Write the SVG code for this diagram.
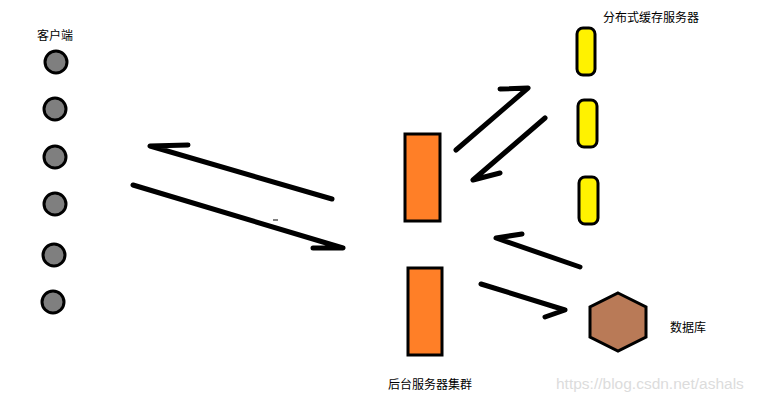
<svg xmlns="http://www.w3.org/2000/svg" width="757" height="403" viewBox="0 0 757 403">
<style>
.lbl{font-family:"Liberation Sans","Noto Sans CJK SC",sans-serif;font-size:12px;fill:#000}
.client{fill:#7f7f7f;stroke:#000;stroke-width:3}
.cache{fill:#fff200;stroke:#000;stroke-width:3}
.srv{fill:#ff7f27;stroke:#000;stroke-width:3}
.arr{fill:none;stroke:#000;stroke-width:5;stroke-linecap:round;stroke-linejoin:round}
</style>
<rect width="757" height="403" fill="#fff"/>
<g id="clients">
<text class="lbl" x="37" y="40">客户端</text>
<circle class="client" cx="56" cy="62" r="11"/>
<circle class="client" cx="55" cy="109" r="11"/>
<circle class="client" cx="55" cy="157" r="11"/>
<circle class="client" cx="55" cy="204" r="11"/>
<circle class="client" cx="54" cy="255" r="11"/>
<circle class="client" cx="53" cy="302" r="11"/>
</g>
<g id="cache">
<text class="lbl" x="603" y="22">分布式缓存服务器</text>
<rect class="cache" x="577" y="28" width="18" height="47" rx="6"/>
<rect class="cache" x="578" y="100" width="19" height="47" rx="6"/>
<rect class="cache" x="579" y="177" width="19" height="47" rx="6"/>
</g>
<g id="servers">
<rect class="srv" x="405" y="134" width="35" height="87"/>
<rect class="srv" x="408" y="268" width="34" height="87"/>
<text class="lbl" x="388" y="389">后台服务器集群</text>
</g>
<g id="db">
<polygon points="618,293 646,307 646,337 618,351 590,337 590,307" fill="#b97a57" stroke="#000" stroke-width="3"/>
<text class="lbl" x="670" y="332">数据库</text>
</g>
<g id="connectors">
<polyline class="arr" points="332,199 150,146 188,145"/>
<polyline class="arr" points="133,185 343,248 313,248"/>
<polyline class="arr" points="456,150 528,88 500,89"/>
<polyline class="arr" points="545,118 473,180 500,173"/>
<polyline class="arr" points="580,267 496,238 522,234"/>
<polyline class="arr" points="481,284 565,310 545,317"/>
<line x1="273" y1="220" x2="278" y2="220" stroke="#000" stroke-width="1"/>
</g>
<text x="556" y="389" font-family="Liberation Sans, sans-serif" font-size="15.5" fill="#dcdcdc">https://blog.csdn.net/ashals</text>
</svg>
